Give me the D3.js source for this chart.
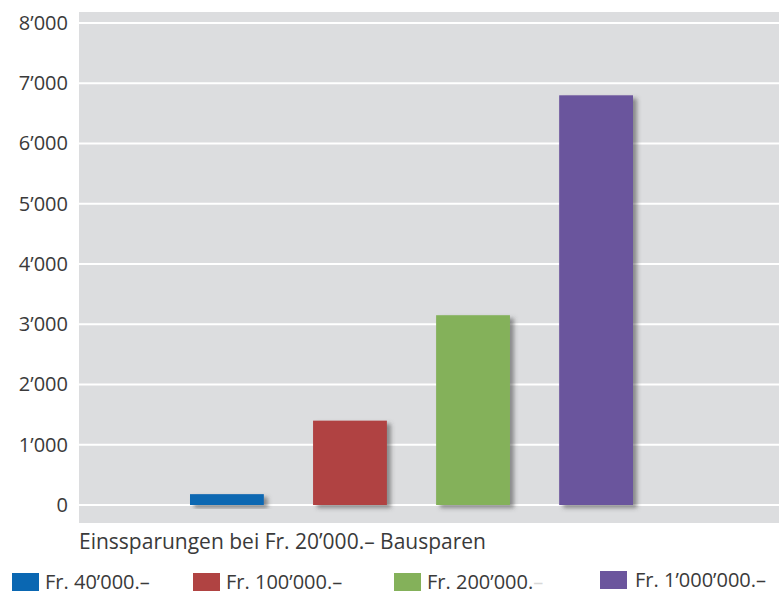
<!DOCTYPE html>
<html><head><meta charset="utf-8">
<script src="https://cdn.jsdelivr.net/npm/d3@7"></script>
<style>body{margin:0;background:#fff}svg{display:block}text{font-family:"Open Sans",sans-serif}</style>
</head><body>
<svg id="c" width="779" height="597"></svg>
<script>
const categories = ["Fr. 40’000.–", "Fr. 100’000.–", "Fr. 200’000.", "Fr. 1’000’000.–"];
const values = [180, 1400, 3150, 6800];
const colors = ["#0a67b2", "#b04342", "#84b15a", "#6b559d"];
const tickValues = [0, 1000, 2000, 3000, 4000, 5000, 6000, 7000, 8000];
const tickLabels = ["0", "1’000", "2’000", "3’000", "4’000", "5’000", "6’000", "7’000", "8’000"];
const xTitle = "Einssparungen bei Fr. 20’000.– Bausparen";

const svg = d3.select("#c");
const defs = svg.append("defs");
const f = defs.append("filter").attr("id","sh").attr("x","-20%").attr("y","-20%").attr("width","150%").attr("height","150%");
f.append("feDropShadow").attr("dx",4).attr("dy",3).attr("stdDeviation",2.2).attr("flood-color","#444").attr("flood-opacity",0.55);

const plot = {x0:79, x1:779, y0:12, y1:523};
svg.append("rect").attr("x",plot.x0).attr("y",plot.y0).attr("width",plot.x1-plot.x0).attr("height",plot.y1-plot.y0).attr("fill","#dcdddf");

const y = d3.scaleLinear().domain([0,8000]).range([505,23]);
const x = d3.scaleBand().domain(categories).range([190, 633]).paddingInner(0.4).paddingOuter(0);

svg.append("g").selectAll("line").data(tickValues).join("line")
  .attr("x1",plot.x0).attr("x2",plot.x1)
  .attr("y1",d=>y(d)).attr("y2",d=>y(d))
  .attr("stroke","#fff").attr("stroke-width",2.2);

const yAxis = d3.axisLeft(y).tickValues(tickValues).tickFormat((d,i)=>tickLabels[i]).tickSize(0).tickPadding(0);
const ga = svg.append("g").attr("transform","translate(68,0)").call(yAxis);
ga.select(".domain").remove();
ga.selectAll("text").attr("font-size",20).attr("fill","#3a3a3a").attr("font-family","'Open Sans',sans-serif");

svg.append("g").selectAll("rect").data(values).join("rect")
  .attr("x",(d,i)=>x(categories[i]))
  .attr("width",x.bandwidth())
  .attr("y",d=>y(d))
  .attr("height",d=>y(0)-y(d))
  .attr("fill",(d,i)=>colors[i])
  .attr("filter","url(#sh)");

svg.append("text").attr("x",79).attr("y",549).attr("font-size",21).attr("fill","#3a3a3a").text(xTitle);

const legX = [12, 193, 394, 600];
const legY = [573, 573, 573, 571];
const lg = svg.append("g").selectAll("g").data(categories).join("g")
  .attr("transform",(d,i)=>`translate(${legX[i]},${legY[i]})`);
lg.append("rect").attr("width",27).attr("height",18).attr("fill",(d,i)=>colors[i]);
const lt = lg.append("text").attr("x",(d,i)=>i===3?35:33).attr("y",16).attr("font-size",20).attr("fill","#3a3a3a");
lt.append("tspan").text(d=>d);
lt.filter((d,i)=>i===2).append("tspan").attr("fill","#d8d8d8").text("–");
</script>
</body></html>
